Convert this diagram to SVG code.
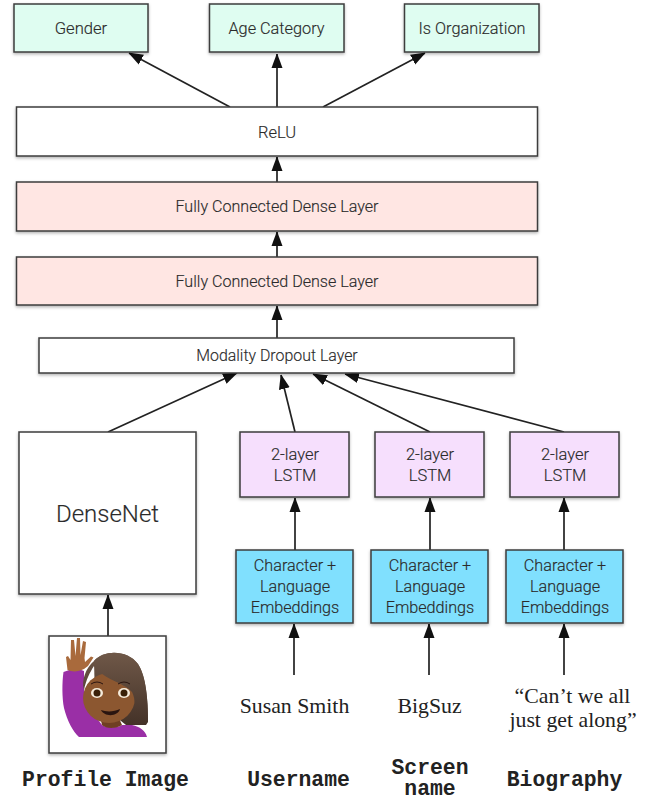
<svg xmlns="http://www.w3.org/2000/svg" width="655" height="796" viewBox="0 0 655 796">
<style>
.b{stroke:#3c3c3c;stroke-width:1.5;filter:url(#sh)}
.t{font-family:"Roboto","Liberation Sans",sans-serif;font-weight:300;fill:#2b2b2b;text-anchor:middle;stroke:#2b2b2b;stroke-width:.15}
.s{font-family:"Liberation Serif",serif;font-size:21.8px;fill:#222;text-anchor:middle}
.m{font-family:"Liberation Mono",monospace;font-size:21.4px;font-weight:bold;fill:#222;text-anchor:middle}
.c line{stroke:#222;stroke-width:1.7;marker-end:url(#a)}
</style>
<defs>
<filter id="sh" x="-5%" y="-10%" width="110%" height="125%"><feDropShadow dx="0" dy="1.5" stdDeviation="1.5" flood-color="#000" flood-opacity=".3"/></filter>
<marker id="a" markerUnits="userSpaceOnUse" markerWidth="14" markerHeight="16" refX="14" refY="6" orient="auto"><path d="M0 0.5L15 6L0 11.500Z" fill="#111"/></marker>
<linearGradient id="hair" x1="0" y1="0" x2="0" y2="1"><stop offset="0" stop-color="#6f5848"/><stop offset="1" stop-color="#443228"/></linearGradient>
</defs>
<rect width="655" height="796" fill="#fff"/>
<g id="connectors" class="c">
<line x1="230" y1="107" x2="129" y2="53"/>
<line x1="277" y1="107" x2="277" y2="54"/>
<line x1="323" y1="107" x2="425" y2="53"/>
<line x1="277" y1="182" x2="277" y2="157"/>
<line x1="277" y1="257" x2="277" y2="232"/>
<line x1="277" y1="338" x2="277" y2="306"/>
<line x1="108" y1="432" x2="237" y2="373"/>
<line x1="295" y1="432" x2="281" y2="375"/>
<line x1="430" y1="432" x2="313" y2="374"/>
<line x1="564" y1="432" x2="345" y2="374"/>
<line x1="295" y1="550" x2="295" y2="498"/>
<line x1="430" y1="550" x2="430" y2="498"/>
<line x1="564" y1="550" x2="564" y2="498"/>
<line x1="108" y1="636" x2="108" y2="595"/>
<line x1="294" y1="675" x2="294" y2="624"/>
<line x1="429" y1="675" x2="429" y2="624"/>
<line x1="564" y1="675" x2="564" y2="624"/>
</g>
<g id="gender"><rect class="b" x="14" y="4" width="134" height="48" fill="#dffdf1"/><text class="t" x="81" y="34" font-size="16.600">Gender</text></g>
<g id="age"><rect class="b" x="209.500" y="4" width="134.500" height="48" fill="#dffdf1"/><text class="t" x="276.500" y="34" font-size="16.300">Age Category</text></g>
<g id="org"><rect class="b" x="404.500" y="4" width="134.500" height="48" fill="#dffdf1"/><text class="t" x="472" y="34" font-size="16.300">Is Organization</text></g>
<g id="relu"><rect class="b" x="16.500" y="107" width="521" height="49" fill="#fff"/><text class="t" x="277" y="137.500" font-size="16.500">ReLU</text></g>
<g id="dense2"><rect class="b" x="16.500" y="182" width="521" height="49" fill="#ffe6e3"/><text class="t" x="277" y="212" font-size="16.100">Fully Connected Dense Layer</text></g>
<g id="dense1"><rect class="b" x="16.500" y="257" width="521" height="48" fill="#ffe6e3"/><text class="t" x="277" y="287" font-size="16.100">Fully Connected Dense Layer</text></g>
<g id="dropout"><rect class="b" x="39" y="338" width="475" height="35" fill="#fff"/><text class="t" x="277" y="361" font-size="15.900">Modality Dropout Layer</text></g>
<g id="densenet"><rect class="b" x="19" y="432" width="177" height="162" fill="#fff"/><text class="t" x="107.500" y="522" font-size="24">DenseNet</text></g>
<g id="lstm1"><rect class="b" x="240" y="432" width="109" height="65" fill="#f6dffd"/><text class="t" x="295" y="460" font-size="16.500">2-layer</text><text class="t" x="295" y="481" font-size="16.500">LSTM</text></g>
<g id="lstm2"><rect class="b" x="375" y="432" width="109" height="65" fill="#f6dffd"/><text class="t" x="430" y="460" font-size="16.500">2-layer</text><text class="t" x="430" y="481" font-size="16.500">LSTM</text></g>
<g id="lstm3"><rect class="b" x="510" y="432" width="109" height="65" fill="#f6dffd"/><text class="t" x="565" y="460" font-size="16.500">2-layer</text><text class="t" x="565" y="481" font-size="16.500">LSTM</text></g>
<g id="emb1"><rect class="b" x="236" y="550" width="117" height="73" fill="#80e0fe"/><text class="t" x="295" y="571" font-size="16.200">Character +</text><text class="t" x="295" y="592" font-size="16.200">Language</text><text class="t" x="295" y="613" font-size="16.200">Embeddings</text></g>
<g id="emb2"><rect class="b" x="371" y="550" width="117" height="73" fill="#80e0fe"/><text class="t" x="430" y="571" font-size="16.200">Character +</text><text class="t" x="430" y="592" font-size="16.200">Language</text><text class="t" x="430" y="613" font-size="16.200">Embeddings</text></g>
<g id="emb3"><rect class="b" x="506" y="550" width="117" height="73" fill="#80e0fe"/><text class="t" x="565" y="571" font-size="16.200">Character +</text><text class="t" x="565" y="592" font-size="16.200">Language</text><text class="t" x="565" y="613" font-size="16.200">Embeddings</text></g>
<g id="profile">
<rect class="b" x="49" y="636" width="117" height="117" fill="#fff"/>
<path d="M94 661C104 649 128 650 138 664C146 676 148 700 148 722L146 725L126 725L95 700Z" fill="url(#hair)"/>
<path d="M63.500 672C62 682 62 698 64 708C67 720 73 732 79 737L147 737C145 730 140 727 132 725L122 725C118 728 106 728 102 725L96 717C90 712 85 704 84 692L84 671C78 668 70 669 63.500 672Z" fill="#9a2fa6"/>
<path d="M100 716L118 716L122 725C116 729 106 729 102 725Z" fill="#6f3f22"/>
<ellipse cx="109" cy="698" rx="26" ry="25" fill="#8c5730"/>
<path d="M94 661C104 649 128 650 138 664C146 676 148 700 148 722L131 725C136 712 136 700 132 692C123 682 104 680 94 666C90 672 86 680 84 690C81 680 86 668 94 661Z" fill="url(#hair)"/>
<path d="M67.500 670L66 657L68 656L70.500 660L71 640L74 640L75.500 656L77 638L80 638L80.500 655L83 641L86 642L84.500 658L85 662L91 656.500L93.500 657.500L88 666L84 669C78 672 72 672 67.500 670Z" fill="#a96a3c"/>
<ellipse cx="97" cy="693" rx="6" ry="5" fill="#f6ecdc"/><ellipse cx="124" cy="693" rx="6" ry="5" fill="#f6ecdc"/>
<circle cx="97" cy="693" r="3.500" fill="#3a2008"/><circle cx="124" cy="693" r="3.500" fill="#3a2008"/>
<path d="M91 684Q97 680 103 684M118 684Q124 680 130 684" fill="none" stroke="#2a1510" stroke-width="1"/>
<path d="M101 710C106 712 114 712 120 709C118 717 104 717 101 710Z" fill="#2a1510"/>
</g>
<g id="labels">
<text class="s" x="294.500" y="713">Susan Smith</text>
<text class="s" x="429.500" y="713">BigSuz</text>
<text class="s" x="572.500" y="703">“Can’t we all</text>
<text class="s" x="573" y="727">just get along”</text>
<text class="m" x="105.500" y="786">Profile Image</text>
<text class="m" x="298.500" y="786">Username</text>
<text class="m"><tspan x="430" y="774">Screen</tspan><tspan x="430" y="795">name</tspan></text>
<text class="m" x="564.500" y="786">Biography</text>
</g>
</svg>
